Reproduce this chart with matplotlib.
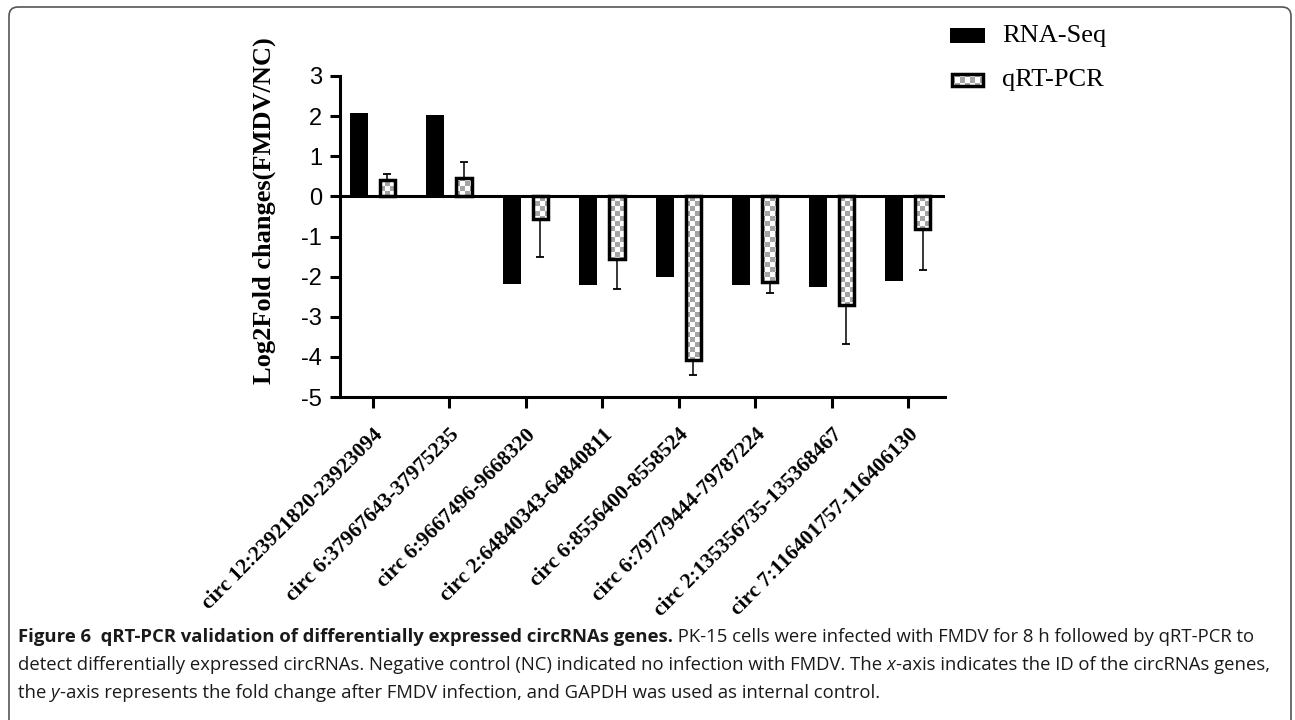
#!/usr/bin/env python3
"""qRT-PCR validation of differentially expressed circRNAs (Figure 6 panel)."""

import matplotlib

matplotlib.use("Agg")
import matplotlib.pyplot as plt
import numpy as np
from matplotlib import font_manager
from matplotlib.colors import ListedColormap
from matplotlib.patches import FancyBboxPatch, Rectangle
from matplotlib.path import Path

circ_ids = [
    "circ 12:23921820-23923094",
    "circ 6:37967643-37975235",
    "circ 6:9667496-9668320",
    "circ 2:64840343-64840811",
    "circ 6:8556400-8558524",
    "circ 6:79779444-79787224",
    "circ 2:135356735-135368467",
    "circ 7:116401757-116406130",
]
rna_seq = [2.07, 2.03, -2.18, -2.22, -2.00, -2.20, -2.27, -2.10]
qrt_pcr = [0.42, 0.47, -0.57, -1.55, -4.07, -2.13, -2.70, -0.82]
qrt_err = [0.13, 0.39, 0.95, 0.75, 0.38, 0.27, 0.98, 1.01]

y_ticks = [3, 2, 1, 0, -1, -2, -3, -4, -5]
legend_labels = ["RNA-Seq", "qRT-PCR"]

caption_lines = [
    [("Figure 6  qRT-PCR validation of differentially expressed circRNAs genes.", "bold", "normal"),
     (" PK-15 cells were infected with FMDV for 8 h followed by qRT-PCR to", "normal", "normal")],
    [("detect differentially expressed circRNAs. Negative control (NC) indicated no infection with FMDV. The ", "normal", "normal"),
     ("x", "normal", "italic"),
     ("-axis indicates the ID of the circRNAs genes,", "normal", "normal")],
    [("the ", "normal", "normal"),
     ("y", "normal", "italic"),
     ("-axis represents the fold change after FMDV infection, and GAPDH was used as internal control.", "normal", "normal")],
]

W, H = 1295, 720
SERIF = "Liberation Serif"
SANS = "Liberation Sans"
CHECKER = ListedColormap(["white", "#a4a4a4"])

installed = {f.name for f in font_manager.fontManager.ttflist}
CAPTION_FONT = "Open Sans" if "Open Sans" in installed else "DejaVu Sans"


def checker(nx, ny):
    ii, jj = np.meshgrid(np.arange(nx), np.arange(ny))
    return (ii + jj) % 2


def draw_runs(ax, x, y, runs, size, renderer):
    for text, weight, style in runs:
        t = ax.text(x, y, text, fontsize=size, fontweight=weight, fontstyle=style,
                    family=CAPTION_FONT, ha="left", va="baseline", color="#1a1a1a")
        x += t.get_window_extent(renderer).width
    return x


def make_plot(out_path):
    fig = plt.figure(figsize=(W / 100, H / 100), dpi=100)
    ax = fig.add_axes([340 / W, 1 - 397 / H, 605 / W, 321 / H])

    x = np.arange(len(circ_ids))
    xlim = (-0.43, 7.48)
    ylim = (-5, 3)

    ax.bar(x - 0.185, rna_seq, 0.236, color="black", zorder=3)
    q_bars = ax.bar(x + 0.19, qrt_pcr, 0.2, facecolor="none", edgecolor="black",
                    linewidth=2.5, zorder=4)

    # error bars point away from zero only
    lower = [e if v < 0 else 0 for v, e in zip(qrt_pcr, qrt_err)]
    upper = [e if v >= 0 else 0 for v, e in zip(qrt_pcr, qrt_err)]
    ax.errorbar(x + 0.19, qrt_pcr, yerr=[lower, upper], fmt="none", ecolor="black",
                elinewidth=1.1, capsize=3.2, capthick=1.3, zorder=2)

    # checker fill clipped to the qRT-PCR bars
    paths = [b.get_path().transformed(b.get_patch_transform()) for b in q_bars]
    im = ax.imshow(checker(121, 64), cmap=CHECKER, extent=(*xlim, *ylim), origin="lower",
                   interpolation="nearest", aspect="auto", zorder=3.5)
    im.set_clip_path(Path.make_compound_path(*paths), ax.transData)

    ax.axhline(0, color="black", linewidth=2.2, zorder=5)
    ax.set_xlim(*xlim)
    ax.set_ylim(*ylim)

    for side in ("top", "right"):
        ax.spines[side].set_visible(False)
    for side in ("left", "bottom"):
        ax.spines[side].set_linewidth(2.2)

    ax.set_yticks(y_ticks)
    ax.set_yticklabels([str(v) for v in y_ticks], family=SANS, fontsize=17)
    ax.tick_params(axis="y", length=7, width=2.2, pad=6)
    ax.set_xticks(x)
    ax.set_xticklabels(circ_ids, rotation=45, ha="right", va="top",
                       rotation_mode="anchor", family=SERIF, fontweight="bold",
                       fontsize=15.5)
    ax.tick_params(axis="x", length=8, width=2.2, pad=12)
    ax.set_ylabel("Log2Fold changes(FMDV/NC)", family=SERIF, fontweight="bold",
                  fontsize=19)
    ax.yaxis.set_label_coords(-0.106, 0.58)

    # page overlay in pixel coordinates: border, legend, caption
    ov = fig.add_axes([0, 0, 1, 1])
    ov.set_xlim(0, W)
    ov.set_ylim(H, 0)
    ov.axis("off")
    ov.add_patch(FancyBboxPatch((9, 7), 1282, 730, boxstyle="round,pad=0,rounding_size=9",
                                facecolor="none", edgecolor="#555555", linewidth=1.2))

    ov.add_patch(Rectangle((950, 28), 35, 15, facecolor="black", edgecolor="none"))
    leg = Rectangle((952, 74), 31, 12, facecolor="none", edgecolor="black", linewidth=2.5)
    ov.add_patch(leg)
    lim = ov.imshow(checker(7, 3), cmap=CHECKER, extent=(950, 985, 88, 72),
                    interpolation="nearest", aspect="auto", zorder=0.5)
    lim.set_clip_path(leg)
    ov.set_xlim(0, W)
    ov.set_ylim(H, 0)
    ov.text(1002, 36, legend_labels[0], family=SERIF, fontsize=19, va="center", ha="left")
    ov.text(1002, 80, legend_labels[1], family=SERIF, fontsize=19, va="center", ha="left")

    renderer = fig.canvas.get_renderer()
    probe = ov.text(0, 0, "".join(r[0] for r in caption_lines[1]), fontsize=12,
                    family=CAPTION_FONT)
    size = 12 * 1244 / probe.get_window_extent(renderer).width
    probe.remove()
    for i, runs in enumerate(caption_lines):
        draw_runs(ov, 18, 642 + 28 * i, runs, size, renderer)

    fig.savefig(out_path, dpi=100)


def main():
    make_plot("out.png")


if __name__ == "__main__":
    main()
